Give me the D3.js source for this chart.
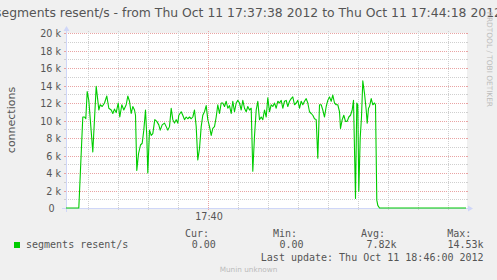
<!DOCTYPE html>
<html><head><meta charset="utf-8">
<script src="https://cdn.jsdelivr.net/npm/d3@7"></script>
<style>
html,body{margin:0;padding:0;background:#f0f0f0;overflow:hidden;}
svg{display:block;}
</style></head><body>
<svg id="chart" width="497" height="280"></svg>
<script>
// ---------- data ----------
const titleText = "segments resent/s - from Thu Oct 11 17:37:38 2012 to Thu Oct 11 17:44:18 2012";
const yAxisLabel = "connections";
const seriesName = "segments resent/s";
const startTime = new Date(2012, 9, 11, 17, 37, 38);
const endTime = new Date(2012, 9, 11, 17, 44, 18);
// seconds after start time
const offsets = [0,12.8,16.8,18.5,19.8,21.2,22.8,26.8,30.2,31.8,32.8,34.2,36.2,38.5,40.8,42.8,45.2,46.8,48.5,50.2,52.2,53.8,55.8,57.8,60.2,61.8,63.5,65.2,66.8,68.5,69.5,70.8,72.5,74.5,76.2,77.8,79.5,80.8,81.8,83.5,85.2,86.8,88.8,90.8,92.8,94.2,96.2,98.5,100.2,101.8,103.5,105.2,106.8,108.5,110.2,111.8,112.8,115.2,116.8,118.5,120.2,121.8,123.5,125.2,126.8,128.5,130.2,131.8,133.5,135.2,136.8,138.5,140.2,141.8,143.5,145.2,146.8,148.5,150.2,151.8,153.5,155.2,156.8,158.5,160.2,161.8,163.5,165.2,166.8,168.5,170.2,171.8,173.5,175.2,176.8,178.5,180.2,181.8,183.5,185.2,186.8,188.5,190.2,191.8,193.5,195.2,196.8,198.5,200.2,201.8,203.5,205.2,206.8,208.5,210.2,211.8,213.5,215.2,216.8,218.5,220.2,221.8,223.5,225.2,226.8,228.5,230.2,231.8,233.5,235.2,236.8,238.5,240.2,241.8,243.5,245.2,246.8,248.5,250.2,251.8,253.5,255.2,256.8,258.5,260.2,261.8,263.5,265.2,266.8,268.5,270.2,271.8,273.5,274.5,276.2,277.8,279.5,281.2,282.8,284.5,286.2,287.5,289.5,290.8,291.8,292.8,294.2,295.5,296.8,298.5,300.2,301.2,302.5,303.5,305.2,306.8,308.5,309.5,310.8,311.8,313.5,400];
// segments resent per second (thousands)
const resentK = [0,0,10.4,10.4,10.2,13.3,12.3,6.4,13.9,12.3,11.2,11.8,11.6,12.0,12.8,11.4,11.2,10.8,11.3,10.9,12.0,10.4,11.8,11.2,11.8,12.8,12.2,10.8,11.6,11.2,10.6,4.3,6.2,7.2,7.4,8.9,11.2,8.2,4.0,8.9,8.3,8.5,10.1,9.9,9.5,8.9,9.5,9.7,9.3,8.9,9.3,11.4,10.1,9.7,10.1,9.7,10.6,11.0,10.6,10.1,10.4,10.2,10.4,10.2,10.4,11.2,9.3,5.5,6.8,9.3,10.6,11.0,11.7,10.1,9.3,8.3,9.1,9.3,10.4,11.8,10.8,12.0,12.0,11.6,12.2,11.4,11.7,10.8,12.2,11.0,12.0,12.3,12.0,11.2,12.3,11.4,11.0,11.6,11.2,11.4,4.2,8.2,11.2,12.2,10.1,10.4,10.1,11.2,10.4,12.6,11.0,11.8,11.6,12.0,11.4,12.2,12.0,12.3,11.4,12.2,12.3,11.6,12.2,12.5,12.7,11.8,12.0,12.3,11.4,12.2,11.8,12.2,12.5,12.0,11.0,10.8,10.6,10.2,10.1,5.7,11.8,11.8,11.2,10.4,11.6,12.3,12.7,12.2,12.9,12.0,11.8,11.8,11.0,9.1,10.1,10.6,9.9,9.9,10.4,10.6,11.2,12.3,1.1,12.0,11.8,1.9,8.0,10.4,14.53,13.1,11.2,9.7,11.4,11.6,12.5,11.8,12.0,11.8,0.9,0.3,0,0];
const yTickValues = [0,2000,4000,6000,8000,10000,12000,14000,16000,18000,20000];
const yTickLabels = ["0","2 k","4 k","6 k","8 k","10 k","12 k","14 k","16 k","18 k","20 k"];
const xLabelTimes = [new Date(2012, 9, 11, 17, 40, 0)];
const xLabelTexts = ["17:40"];
const statHeaders = ["Cur:","Min:","Avg:","Max:"];
const statValues = ["0.00","0.00","7.82k","14.53k"];
const lastUpdate = "Last update: Thu Oct 11 18:46:00 2012";
const watermark = "Munin unknown";
const sideMark = "RRDTOOL / TOBI OETIKER";

// ---------- drawing ----------
const svg = d3.select("#chart");
const SANS = "'DejaVu Sans', sans-serif";
const MONO = "'DejaVu Sans Mono', monospace";
const FONT = "#555555";
const X0 = 66, X1 = 466, Y0 = 208, Y1 = 33;

const x = d3.scaleTime().domain([startTime, endTime]).range([X0, X1]);
const y = d3.scaleLinear().domain([0, 20000]).range([Y0, Y1]);

svg.append("rect").attr("width", 497).attr("height", 280).attr("fill", "#f0f0f0");
svg.append("rect").attr("x", X0).attr("y", Y1).attr("width", X1 - X0 + 1).attr("height", Y0 - Y1 + 1).attr("fill", "#ffffff");

const grid = svg.append("g").attr("shape-rendering", "crispEdges");
const minorCol = "#cfcfcf", majorCol = "#e9a3a3";
// horizontal grid
d3.range(1000, 20001, 1000).forEach(v => {
  const yy = Math.round(y(v)) + 0.5;
  const col = v % 2000 === 0 ? majorCol : minorCol;
  grid.append("line").attr("x1", X0 - 2).attr("x2", X1 + 2).attr("y1", yy).attr("y2", yy)
    .attr("stroke", col).attr("stroke-dasharray", "1,1");
  grid.append("line").attr("x1", X0 - 2).attr("x2", X0).attr("y1", yy).attr("y2", yy).attr("stroke", col);
  grid.append("line").attr("x1", X1).attr("x2", X1 + 2).attr("y1", yy).attr("y2", yy).attr("stroke", col);
});
// vertical grid
const majorTimes = x.ticks(d3.timeMinute.every(5)).map(d => +d);
x.ticks(d3.timeSecond.every(30)).forEach(t => {
  const xx = Math.round(x(t)) + 0.5;
  const col = majorTimes.includes(+t) ? majorCol : minorCol;
  grid.append("line").attr("x1", xx).attr("x2", xx).attr("y1", Y1 - 2).attr("y2", Y0 + 2)
    .attr("stroke", col).attr("stroke-dasharray", "1,1");
});

// axes
const axisCol = "#cfd6f8";
svg.append("line").attr("x1", X0 - 4).attr("x2", X1 + 4).attr("y1", Y0 + 0.5).attr("y2", Y0 + 0.5).attr("stroke", axisCol);
svg.append("line").attr("x1", X0 + 0.5).attr("x2", X0 + 0.5).attr("y1", Y0 + 4).attr("y2", Y1 - 4).attr("stroke", axisCol);
svg.append("path").attr("d", `M${X1+2},${Y0+0.5-3}L${X1+2},${Y0+0.5+3}L${X1+7},${Y0+0.5}Z`).attr("fill", axisCol);
svg.append("path").attr("d", `M${X0+0.5-3},${Y1-2}L${X0+0.5+3},${Y1-2}L${X0+0.5},${Y1-7}Z`).attr("fill", axisCol);

// y tick labels
svg.append("g").selectAll("text").data(yTickValues).join("text")
  .attr("x", (d, i) => yTickLabels[i].includes("k") ? 61 : 54.5)
  .attr("y", d => Math.round(y(d)) + 0.5 + 3.4)
  .attr("text-anchor", "end").attr("font-family", SANS).attr("font-size", "9.6px").attr("fill", FONT)
  .text((d, i) => yTickLabels[i]);

// x labels
svg.append("g").selectAll("text").data(xLabelTimes).join("text")
  .attr("x", d => Math.round(x(d)) + 1)
  .attr("y", 220)
  .attr("text-anchor", "middle").attr("font-family", SANS).attr("font-size", "9.6px").attr("fill", FONT)
  .text((d, i) => xLabelTexts[i]);

// y axis label
svg.append("text").attr("transform", "translate(15,120) rotate(-90)")
  .attr("text-anchor", "middle").attr("font-family", SANS).attr("font-size", "11px").attr("fill", FONT)
  .text(yAxisLabel);

// title
svg.append("text").attr("x", 248.5).attr("y", 17.3).attr("text-anchor", "middle")
  .attr("font-family", SANS).attr("font-size", "12.4px").attr("fill", FONT).text(titleText);

// side watermark
svg.append("text").attr("transform", "translate(486.5,107) rotate(90)")
  .attr("text-anchor", "end").attr("font-family", SANS).attr("font-size", "7.4px").attr("fill", "#bcbcbc")
  .text(sideMark);

// data line
const pts = offsets.map((o, i) => ({ t: new Date(+startTime + o * 1000), v: resentK[i] * 1000 }));
const line = d3.line().x(d => x(d.t)).y(d => y(d.v));
svg.append("path").datum(pts).attr("d", line).attr("fill", "none")
  .attr("stroke", "#00cc00").attr("stroke-width", 1.1).attr("stroke-linejoin", "round");

// legend
svg.append("rect").attr("x", 14).attr("y", 242).attr("width", 6).attr("height", 6).attr("fill", "#00cc00");
svg.append("text").attr("x", 26).attr("y", 248.3).attr("font-family", MONO).attr("font-size", "10px").attr("fill", FONT).text(seriesName);
const headerX = [185, 273, 361, 447.3];
const valueEndX = [215.8, 303.6, 396.6, 483.6];
svg.append("g").selectAll("text").data(statHeaders).join("text")
  .attr("x", (d, i) => headerX[i]).attr("y", 236.8)
  .attr("font-family", MONO).attr("font-size", "10px").attr("fill", FONT).text(d => d);
svg.append("g").selectAll("text").data(statValues).join("text")
  .attr("x", (d, i) => valueEndX[i]).attr("y", 248.3).attr("text-anchor", "end")
  .attr("font-family", MONO).attr("font-size", "10px").attr("fill", FONT).text(d => d);
svg.append("text").attr("x", 483.6).attr("y", 260.6).attr("text-anchor", "end")
  .attr("font-family", MONO).attr("font-size", "10px").attr("fill", FONT).text(lastUpdate);
svg.append("text").attr("x", 248.5).attr("y", 271.5).attr("text-anchor", "middle")
  .attr("font-family", SANS).attr("font-size", "7.3px").attr("fill", "#bbbbbb").text(watermark);
</script>
</body></html>
